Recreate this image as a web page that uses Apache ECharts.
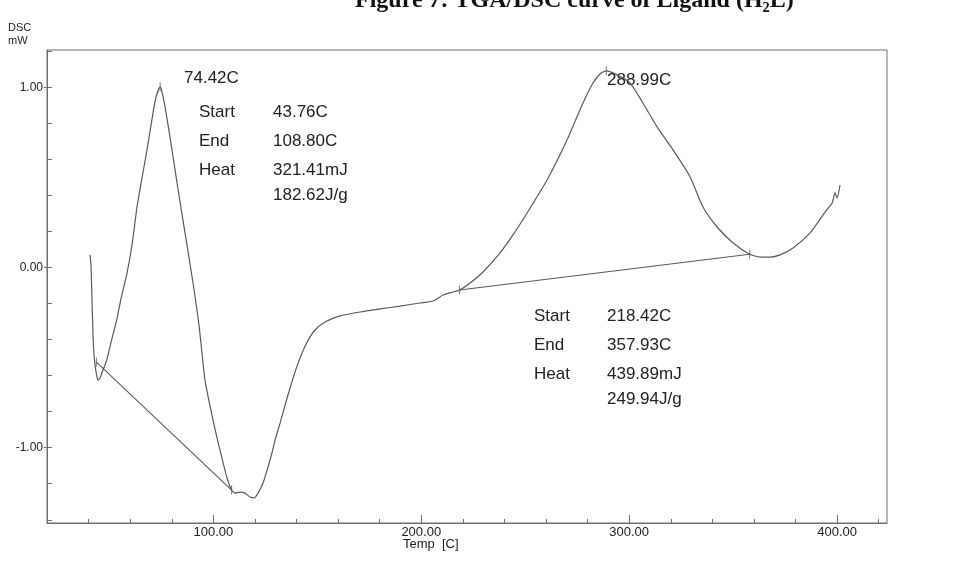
<!DOCTYPE html>
<html>
<head>
<meta charset="utf-8">
<script src="https://cdn.jsdelivr.net/npm/echarts@6/dist/echarts.min.js"></script>
<style>
  html, body { margin: 0; padding: 0; background: #ffffff; }
  #chart { width: 971px; height: 565px; }
</style>
</head>
<body>
<div id="chart"></div>
<script>
// DSC trace of the ligand: temperature (C) and heat flow (mW)
const temps = [
  40.68, 41.16, 41.64, 42.13, 42.61, 43.09, 43.76, 44.53, 45.49, 46.94,
  48.72, 51.12, 53.53, 55.45, 58.48, 60.88, 63.29, 65.70, 68.10, 70.99,
  72.43, 74.42, 75.30, 76.76, 79.16, 82.53, 86.38, 90.23, 93.11, 96.00,
  99.85, 103.2, 106.6, 108.8, 110.4, 112.8, 115.2, 117.6, 119.6, 121.5,
  123.9, 126.3, 128.2, 129.7, 132.1, 134.5, 136.9, 139.3, 141.7, 145.1,
  148.9, 153.7, 160.9, 170.6, 180.2, 189.8, 199.4, 205.7, 210.5, 215.3,
  218.42, 223.5, 229.7, 237.9, 244.1, 250.9, 260.5, 270.1, 277.8, 282.6,
  286.0, 288.99, 294.2, 300.4, 308.6, 313.4, 321.1, 329.3, 335.5, 342.3,
  350.0, 357.93, 363.0, 367.8, 372.6, 378.8, 387.0, 394.2, 397.6, 399.0,
  400.0, 401.4
];
const heatFlow = [
  0.071, 0.015, -0.18, -0.37, -0.485, -0.54, -0.59, -0.624, -0.613, -0.568,
  -0.513, -0.40, -0.29, -0.18, -0.03, 0.126, 0.337, 0.498, 0.654, 0.86,
  0.948, 1.004, 0.976, 0.893, 0.726, 0.471, 0.193, -0.085, -0.32, -0.624,
  -0.846, -1.013, -1.168, -1.235, -1.252, -1.246, -1.252, -1.274, -1.279, -1.252,
  -1.196, -1.107, -1.029, -0.957, -0.863, -0.763, -0.668, -0.579, -0.502, -0.413,
  -0.346, -0.302, -0.268, -0.246, -0.229, -0.213, -0.196, -0.185, -0.152, -0.135,
  -0.124, -0.085, -0.024, 0.082, 0.182, 0.304, 0.487, 0.709, 0.915, 1.026,
  1.076, 1.093, 1.071, 1.026, 0.876, 0.782, 0.654, 0.504, 0.337, 0.226,
  0.137, 0.075, 0.059, 0.059, 0.071, 0.109, 0.193, 0.309, 0.359, 0.415,
  0.387, 0.459
];

// integration baselines of the two peaks (start / end)
const baseline1T = [43.76, 108.80];
const baseline1Y = [-0.524, -1.235];
const baseline2T = [218.42, 357.93];
const baseline2Y = [-0.124, 0.075];

// peak maxima
const peakT = [74.42, 288.99];
const peakY = [1.004, 1.093];

// axis ticks and labels
const xMinorTicks = [20, 40, 60, 80, 100, 120, 140, 160, 180, 200, 220, 240, 260, 280, 300, 320, 340, 360, 380, 400, 420];
const xMajorTicks = [100, 200, 300, 400];
const yMinorTicks = [-1.4, -1.2, -1.0, -0.8, -0.6, -0.4, -0.2, 0, 0.2, 0.4, 0.6, 0.8, 1.0, 1.2];
const yMajorTicks = [-1, 0, 1];

// annotation text blocks
const peak1Label = '74.42C';
const peak1Rows = [['Start', '43.76C'], ['End', '108.80C'], ['Heat', '321.41mJ'], ['', '182.62J/g']];
const peak2Label = '288.99C';
const peak2Rows = [['Start', '218.42C'], ['End', '357.93C'], ['Heat', '439.89mJ'], ['', '249.94J/g']];

const FONT = '"Liberation Sans", Arial, sans-serif';
const INK = '#222';
const LINE = '#5a5a5a';
const AXIS = '#6e6e6e';

const pairs = (xs, ys) => xs.map((x, i) => [x, ys[i]]);

const chart = echarts.init(document.getElementById('chart'), null, { renderer: 'canvas' });

const markerPts = pairs(peakT, peakY).concat(pairs(baseline1T, baseline1Y), pairs(baseline2T, baseline2Y));

function rowTexts(rows, xName, xVal, yTop, dy) {
  const out = [];
  rows.forEach((r, i) => {
    const y = yTop + (i < 3 ? i * dy : 2 * dy + 25);
    if (r[0]) out.push({ type: 'text', left: xName, top: y, style: { text: r[0], font: '17px ' + FONT, fill: INK } });
    out.push({ type: 'text', left: xVal, top: y, style: { text: r[1], font: '17px ' + FONT, fill: INK } });
  });
  return out;
}

const graphics = [
  { type: 'text', left: 355, top: -11, style: { text: 'Figure 7: TGA/DSC curve of Ligand (H\u2082L)', font: 'bold 24px "Liberation Serif", "Times New Roman", serif', fill: '#111' } },
  { type: 'text', left: 8, top: 22, style: { text: 'DSC', font: '11px ' + FONT, fill: INK } },
  { type: 'text', left: 8, top: 35, style: { text: 'mW', font: '11px ' + FONT, fill: INK } },
  { type: 'text', left: 403, top: 538, style: { text: 'Temp  [C]', font: '13px ' + FONT, fill: INK } },
  { type: 'text', left: 184, top: 70, style: { text: peak1Label, font: '17px ' + FONT, fill: INK } },
  { type: 'text', left: 607, top: 72, style: { text: peak2Label, font: '17px ' + FONT, fill: INK } }
].concat(rowTexts(peak1Rows, 199, 273, 104, 29), rowTexts(peak2Rows, 534, 607, 308, 29));

chart.setOption({
  animation: false,
  backgroundColor: '#ffffff',
  grid: { left: 47, right: 84, top: 50, bottom: 42, show: true, borderColor: AXIS, borderWidth: 1, backgroundColor: 'transparent' },
  xAxis: [
    {
      type: 'value', min: 20, max: 424, interval: 20, position: 'bottom',
      axisLine: { show: true, onZero: false, lineStyle: { color: AXIS, width: 1 } },
      axisTick: { show: true, inside: true, length: 4, lineStyle: { color: AXIS }, customValues: xMinorTicks },
      axisLabel: { show: false },
      splitLine: { show: false }
    },
    {
      type: 'value', min: 20, max: 424, position: 'bottom',
      axisLine: { show: false, onZero: false },
      axisTick: { show: true, inside: true, length: 8, lineStyle: { color: AXIS }, customValues: xMajorTicks },
      axisLabel: { show: true, customValues: xMajorTicks, margin: 3, color: INK, fontSize: 13, fontFamily: FONT, formatter: v => v.toFixed(2) },
      splitLine: { show: false }
    }
  ],
  yAxis: [
    {
      type: 'value', min: -1.418, max: 1.209, position: 'left',
      axisLine: { show: true, onZero: false, lineStyle: { color: AXIS, width: 1 } },
      axisTick: { show: true, inside: true, length: 5, lineStyle: { color: AXIS }, customValues: yMinorTicks },
      axisLabel: { show: false },
      splitLine: { show: false }
    },
    {
      type: 'value', min: -1.418, max: 1.209, position: 'left',
      axisLine: { show: false, onZero: false },
      axisTick: { show: true, inside: false, length: 3, lineStyle: { color: AXIS }, customValues: yMajorTicks },
      axisLabel: { show: true, customValues: yMajorTicks, margin: 4, color: INK, fontSize: 12, fontFamily: FONT, formatter: v => v.toFixed(2) },
      splitLine: { show: false }
    }
  ],
  series: [
    {
      type: 'line', data: pairs(temps, heatFlow), showSymbol: false, smooth: 0.2,
      lineStyle: { color: LINE, width: 1.2 }, silent: true
    },
    {
      type: 'line', data: pairs(baseline1T, baseline1Y), showSymbol: false,
      lineStyle: { color: LINE, width: 1.1 }, silent: true
    },
    {
      type: 'line', data: pairs(baseline2T, baseline2Y), showSymbol: false,
      lineStyle: { color: LINE, width: 1.1 }, silent: true
    },
    {
      type: 'scatter', data: markerPts, symbol: 'rect', symbolSize: [1, 9],
      itemStyle: { color: LINE }, silent: true
    }
  ],
  graphic: graphics
});
</script>
</body>
</html>
